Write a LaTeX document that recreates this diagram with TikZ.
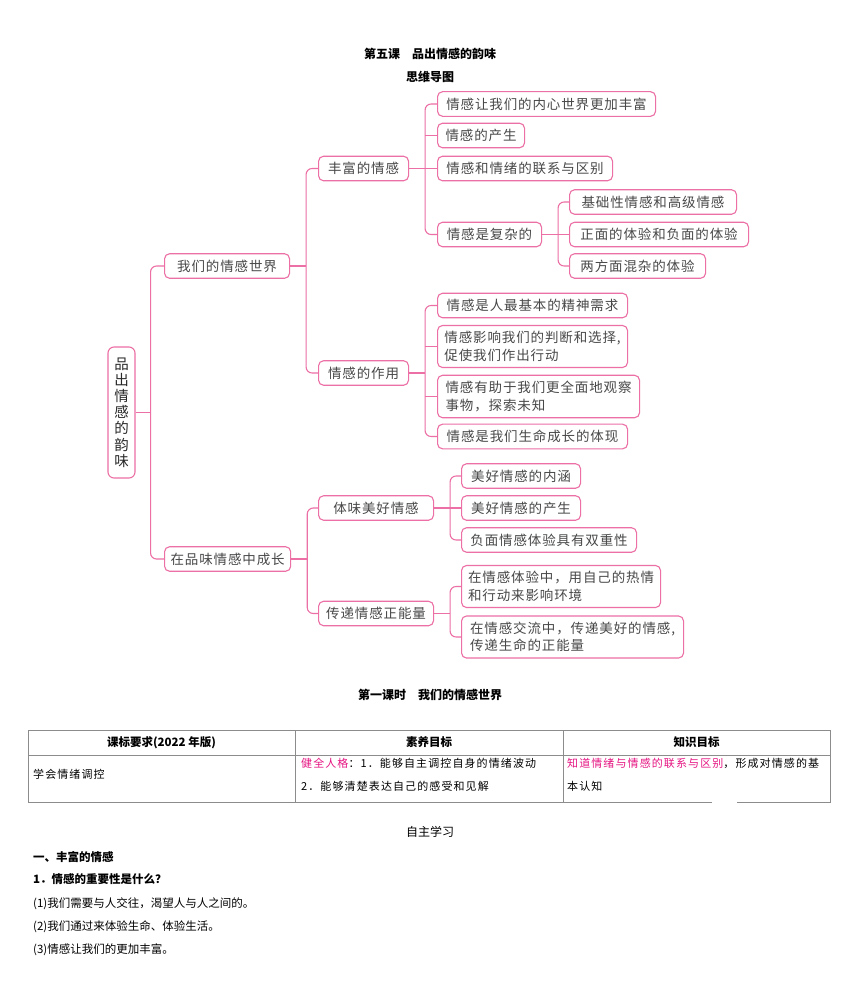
\documentclass[tikz,border=0pt]{standalone}
\usepackage{fontspec}
\usepackage{xcolor}
\usepackage{tikz}
\usetikzlibrary{
  positioning,
  calc
}
\newfontfamily\cjk{Noto Sans CJK SC}
\newfontfamily\cjkmap[LetterSpace=6.5]{Noto Sans CJK SC}
\newfontfamily\cjktab[LetterSpace=10]{Noto Sans CJK SC}
\definecolor{mappink}{RGB}{236, 112, 165}
\definecolor{maptext}{RGB}{72, 72, 72}
\definecolor{roottext}{RGB}{40, 40, 40}
\definecolor{keypink}{RGB}{230, 20, 130}
\definecolor{tblgray}{RGB}{140, 140, 140}
\tikzset{
  mapbox/.style = {
    rectangle, rounded corners=5pt,
    draw=mappink, line width=1.1pt, fill=white,
    text=maptext, font=\cjkmap\fontsize{13.5}{17.5}\selectfont,
    minimum width=#1, minimum height=24pt,
    inner xsep=6pt, inner ysep=6pt, align=left, anchor=west
  },
  mapbox/.default = 0pt,
  rootbox/.style = {
    rectangle, rounded corners=6pt,
    draw=mappink, line width=1.1pt, fill=white,
    text=roottext, font=\cjk\fontsize{14.5}{16.2}\selectfont,
    minimum width=27pt, minimum height=131pt,
    inner sep=0pt, align=center
  },
  link/.style = {draw=mappink, line width=1.1pt},
  fork/.style = {link, rounded corners=6pt},
  heading/.style = {font=\cjk\bfseries\fontsize{12}{14}\selectfont,
    text=black, inner sep=0pt},
  tabhead/.style = {font=\cjk\bfseries\fontsize{11.5}{14}\selectfont,
    text=black, inner sep=0pt},
  tabcell/.style = {font=\cjktab\fontsize{11}{13}\selectfont,
    text=black, inner sep=0pt, anchor=west},
  tblrule/.style = {draw=tblgray, line width=0.8pt},
  qhead/.style = {font=\cjk\bfseries\fontsize{11.5}{14}\selectfont,
    text=black, inner sep=0pt, anchor=west},
  qline/.style = {font=\cjk\fontsize{11.5}{14}\selectfont,
    text=black, inner sep=0pt, anchor=west},
}
\begin{document}
\begin{tikzpicture}[x=1pt, y=-1pt]
  \fill[white] (0,0) rectangle (860,983);
  \useasboundingbox (0,0) rectangle (860,983);

  \node[heading] (title) at (430,54) {第五课　品出情感的韵味};
  \node[heading] (maptitle) at (430,77) {思维导图};

  % mind map
  \node[rootbox] (root) at (121.5,412.5) {品\\出\\情\\感\\的\\韵\\味};

  \node[mapbox=125pt] (world) at (164,266) {我们的情感世界};
  \node[mapbox=125pt] (grow) at (164,559) {在品味情感中成长};

  \node[mapbox=90pt] (rich) at (318,168.5) {丰富的情感};
  \node[mapbox=90pt] (role) at (318,373) {情感的作用};
  \node[mapbox=115pt] (savour) at (318,508) {体味美好情感};
  \node[mapbox=115pt] (pass) at (318,613.5) {传递情感正能量};

  \node[mapbox=218pt] (rich1) at (437,104) {情感让我们的内心世界更加丰富};
  \node[mapbox=87pt] (rich2) at (437,135.5) {情感的产生};
  \node[mapbox=175pt] (rich3) at (437,168.5) {情感和情绪的联系与区别};
  \node[mapbox=104pt] (rich4) at (437,234.5) {情感是复杂的};

  \node[mapbox=167pt] (cplx1) at (569,202) {基础性情感和高级情感};
  \node[mapbox=179pt] (cplx2) at (569,234.5) {正面的体验和负面的体验};
  \node[mapbox=136pt] (cplx3) at (569,266) {两方面混杂的体验};

  \node[mapbox=190pt] (role1) at (437,305.5) {情感是人最基本的精神需求};
  \node[mapbox=190pt] (role2) at (437,346.5)
    {情感影响我们的判断和选择,\\促使我们作出行动};
  \node[mapbox=202pt] (role3) at (437,396.5)
    {情感有助于我们更全面地观察\\事物，探索未知};
  \node[mapbox=190pt] (role4) at (437,436.5) {情感是我们生命成长的体现};

  \node[mapbox=119pt] (sav1) at (461,476) {美好情感的内涵};
  \node[mapbox=119pt] (sav2) at (461,508) {美好情感的产生};
  \node[mapbox=175pt] (sav3) at (461,540) {负面情感体验具有双重性};

  \node[mapbox=199pt] (pass1) at (461,586.5)
    {在情感体验中，用自己的热情\\和行动来影响环境};
  \node[mapbox=222pt] (pass2) at (461,637)
    {在情感交流中，传递美好的情感,\\传递生命的正能量};

  % Links
  \draw[link] (root.east) -- ++(15,0) coordinate (k0);
  \draw[fork] (world.west) -| (k0) |- (grow.west);

  \draw[link] (world.east) -- ++(16,0) coordinate (k1);
  \draw[fork] (rich.west) -| (k1) |- (role.west);

  \draw[link] (rich.east) -- ++(16,0) coordinate (k2);
  \draw[fork] (rich1.west) -| (k2) |- (rich4.west);
  \draw[link] (rich2.west) -- (rich2.west -| k2);
  \draw[link] (k2) -- (rich3.west);

  \draw[link] (rich4.east) -- ++(16,0) coordinate (k3);
  \draw[fork] (cplx1.west) -| (k3) |- (cplx3.west);
  \draw[link] (k3) -- (cplx2.west);

  \draw[link] (role.east) -- ++(16,0) coordinate (k4);
  \draw[fork] (role1.west) -| (k4) |- (role4.west);
  \draw[link] (role2.west) -- (role2.west -| k4);
  \draw[link] (role3.west) -- (role3.west -| k4);

  \draw[link] (grow.east) -- ++(16,0) coordinate (k5);
  \draw[fork] (savour.west) -| (k5) |- (pass.west);

  \draw[link] (savour.east) -- ++(16,0) coordinate (k6);
  \draw[fork] (sav1.west) -| (k6) |- (sav3.west);
  \draw[link] (k6) -- (sav2.west);

  \draw[link] (pass.east) -- ++(16,0) coordinate (k7);
  \draw[fork] (pass1.west) -| (k7) |- (pass2.west);

  % table
  \node[heading] (lesson) at (430,695) {第一课时　我们的情感世界};

  \draw[tblrule] (712,802) -- (28,802) -- (28,730) -- (830,730)
    -- (830,802) -- (737,802);
  \draw[tblrule] (28,755) -- (830,755);
  \draw[tblrule] (295,730) -- (295,802);
  \draw[tblrule] (563,730) -- (563,802);

  \node[tabhead] (colA) at (161.5,742.5) {课标要求(2022 年版)};
  \node[tabhead] (colB) at (429,742.5) {素养目标};
  \node[tabhead] (colC) at (696.5,742.5) {知识目标};

  \node[tabcell] (reqA) at (33,774) {学会情绪调控};
  \node[tabcell] (goalB1) at (301,763)
    {\textcolor{keypink}{健全人格}：1．能够自主调控自身的情绪波动};
  \node[tabcell] (goalB2) at (301,786) {2．能够清楚表达自己的感受和见解};
  \node[tabcell] (goalC1) at (567,763)
    {\textcolor{keypink}{知道情绪与情感的联系与区别}，形成对情感的基};
  \node[tabcell] (goalC2) at (567,786) {本认知};

  % self study
  \node[font=\cjk\fontsize{12}{14}\selectfont, inner sep=0pt] (study)
    at (430,832) {自主学习};
  \node[qhead] (part1) at (33,857) {一、丰富的情感};
  \node[qhead] (ques1) at (33,879) {1．情感的重要性是什么？};
  \node[qline] (line1) at (33,904) {(1)我们需要与人交往，渴望人与人之间的。};
  \node[qline] (line2) at (33,927) {(2)我们通过来体验生命、体验生活。};
  \node[qline] (line3) at (33,950) {(3)情感让我们的更加丰富。};

\end{tikzpicture}
\end{document}
